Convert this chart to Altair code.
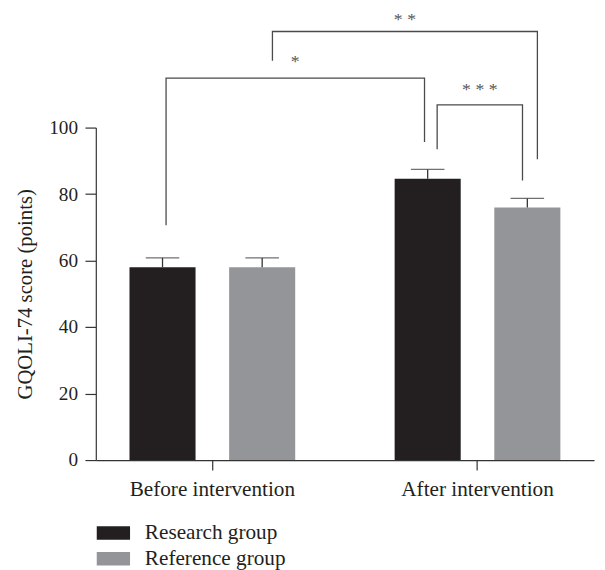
import altair as alt
import pandas as pd

# ---------------- data ----------------
periods = ["Before intervention", "After intervention"]
groups = ["Research group", "Reference group"]
research_mean = [58.0, 84.6]
reference_mean = [58.0, 76.0]
research_err = [2.8, 2.8]
reference_err = [2.8, 2.7]
y_ticks = [0, 20, 40, 60, 80, 100]
group_colors = ["#231f20", "#939598"]

# significance brackets: (period index, group index) of each end
br_labels = ["*", "* *", "* * *"]
br_from = [(0, 0), (0, 1), (1, 0)]
br_to = [(1, 0), (1, 1), (1, 1)]
br_level = [114.9, 128.9, 106.8]
br_left_end = [70.6, 120.1, 93.5]
br_right_end = [95.7, 90.5, 84.1]
br_label_y = [118.1, 131.0, 109.8]

# ---------------- layout ----------------
W, H = 505, 337
PAD_IN, PAD_OUT = 0.375, 0.127
SUB_PAD = 0.337
nudge_left = [3.6, 10.4, 9.6]
nudge_right = [-3.2, 10.2, -4.9]
FONT = "Liberation Serif"
INK = "#231f20"


def bar_center(i, j):
    n = len(periods)
    step = W / (n - PAD_IN + 2 * PAD_OUT)
    start = (W - step * (n - PAD_IN)) * 0.5
    band = step * (1 - PAD_IN)
    sub_step = band / (len(groups) - SUB_PAD)
    sub_band = sub_step * (1 - SUB_PAD)
    return start + i * step + j * sub_step + sub_band / 2


rows = []
for p_i, p in enumerate(periods):
    for g_i, g in enumerate(groups):
        m = (research_mean if g_i == 0 else reference_mean)[p_i]
        e = (research_err if g_i == 0 else reference_err)[p_i]
        rows.append({"period": p, "group": g, "score": m, "upper": m + e})
bars_df = pd.DataFrame(rows)

br_rows, lab_rows = [], []
for k, lab in enumerate(br_labels):
    x1 = bar_center(*br_from[k]) + nudge_left[k]
    x2 = bar_center(*br_to[k]) + nudge_right[k]
    pts = [(x1, br_left_end[k]), (x1, br_level[k]), (x2, br_level[k]), (x2, br_right_end[k])]
    for o, (xx, yy) in enumerate(pts):
        br_rows.append({"bracket": k, "ord": o, "px": xx, "score": yy})
    lab_rows.append({"label": lab, "px": (x1 + x2) / 2, "score": br_label_y[k]})
br_df = pd.DataFrame(br_rows)
lab_df = pd.DataFrame(lab_rows)

yscale = alt.Scale(domain=[0, 100], nice=False, zero=True)
xband = alt.X(
    "period:N",
    sort=periods,
    scale=alt.Scale(paddingInner=PAD_IN, paddingOuter=PAD_OUT),
    axis=alt.Axis(
        title=None, labelAngle=0, labelFontSize=21.5, labelFont=FONT, labelColor=INK,
        tickSize=10, labelPadding=8.5, domainColor="#333333", tickColor="#333333",
        domainWidth=1.2, tickWidth=1.2, grid=False,
    ),
)
xoff = alt.XOffset("group:N", sort=groups, scale=alt.Scale(paddingInner=SUB_PAD, paddingOuter=0))

bars = alt.Chart(bars_df).mark_bar().encode(
    x=xband,
    xOffset=xoff,
    y=alt.Y(
        "score:Q",
        scale=yscale,
        axis=alt.Axis(
            title="GQOLI-74 score (points)", values=y_ticks, titleFont=FONT, titleFontSize=21,
            titleFontWeight="normal", titleColor=INK, titlePadding=13.5,
            labelFont=FONT, labelFontSize=19.5, labelColor=INK, labelPadding=7.5,
            tickSize=11, domainColor="#333333", tickColor="#333333",
            domainWidth=1.2, tickWidth=1.2, grid=False,
        ),
    ),
    color=alt.Color(
        "group:N",
        sort=groups,
        scale=alt.Scale(domain=groups, range=group_colors),
        legend=alt.Legend(
            title=None, orient="none", legendX=0.7, legendY=400,
            symbolType="M-1,-0.4H1V0.4H-1Z", symbolSize=1156, symbolStrokeWidth=0,
            labelFont=FONT, labelFontSize=21.5, labelColor=INK, labelOffset=15,
            clipHeight=22, rowPadding=4, padding=0,
        ),
    ),
)

stems = alt.Chart(bars_df).mark_rule(color="#333333", strokeWidth=1.3).encode(
    x=xband, xOffset=xoff,
    y=alt.Y("score:Q", scale=yscale), y2="upper:Q",
)
caps = alt.Chart(bars_df).mark_tick(color="#333333", thickness=1.3, size=34, orient="horizontal").encode(
    x=xband, xOffset=xoff,
    y=alt.Y("upper:Q", scale=yscale),
)

data_layer = alt.layer(bars, stems, caps)

xq = alt.X("px:Q", scale=alt.Scale(domain=[0, W], nice=False, zero=False), axis=None)
lines = alt.Chart(br_df).mark_line(color="#4a4a4a", strokeWidth=1.3).encode(
    x=xq,
    y=alt.Y("score:Q", scale=yscale, axis=None),
    detail="bracket:N",
    order="ord:Q",
)
stars = alt.Chart(lab_df).mark_text(
    font=FONT, fontSize=18, color="#555555", baseline="alphabetic", align="center"
).encode(
    x=xq,
    y=alt.Y("score:Q", scale=yscale, axis=None),
    text="label:N",
)
annot_layer = alt.layer(lines, stars)

chart = (
    alt.layer(data_layer, annot_layer)
    .resolve_scale(x="independent")
    .resolve_axis(x="independent", y="independent")
    .properties(
        width=W,
        height=H,
        autosize=alt.AutoSizeParams(type="none"),
        padding={"left": 89, "top": 117.4, "right": 3, "bottom": 108},
    )
    .configure(font=FONT)
    .configure_view(stroke="transparent", strokeOpacity=0, strokeWidth=0)
)

chart.save("out.html", embed_options={"renderer": "svg", "actions": False})
